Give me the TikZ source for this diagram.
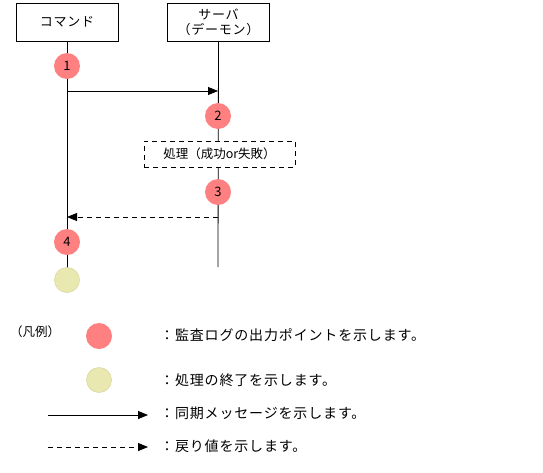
\documentclass[tikz,border=0pt]{standalone}
\usepackage{fontspec}
\setmainfont{Noto Sans CJK JP}
\newfontfamily\spaced[LetterSpace=6]{Noto Sans CJK JP}
\usetikzlibrary{arrows.meta}
\definecolor{audred}{HTML}{FF8080}
\definecolor{endyel}{HTML}{E8E8B0}
\definecolor{endyelb}{HTML}{D8D8A0}
\tikzset{
  lbox/.style={draw, line width=0.8pt, minimum width=102pt, minimum height=38pt, inner sep=0pt, align=center, font=\spaced\fontsize{13}{15}\selectfont},
  life/.style={line width=0.8pt},
  audit/.style={circle, fill=audred, minimum size=26pt, inner sep=0pt, font=\fontsize{13}{13}\selectfont},
  finish/.style={circle, fill=endyel, draw=endyelb, line width=0.6pt, minimum size=25pt, inner sep=0pt},
  sync/.style={line width=0.8pt, -{Triangle[length=10pt, width=8pt]}},
  ret/.style={line width=0.8pt, dash pattern=on 5pt off 4pt, -{Triangle[length=10pt, width=8pt]}},
  procbox/.style={draw, line width=0.8pt, dash pattern=on 5pt off 4pt, minimum width=151pt, minimum height=26pt, inner sep=0pt, font=\fontsize{12.5}{14}\selectfont},
  txt/.style={anchor=west, inner sep=0pt, font=\spaced\fontsize{14}{16}\selectfont}
}
\begin{document}
\begin{tikzpicture}[x=1pt, y=-1pt]
\useasboundingbox (0,0) rectangle (543,472);
% lifelines
\node[lbox] (cmd) at (67,22) {コマンド};
\node[lbox] (srv) at (218.5,22) {サーバ\\（デーモン）};
\coordinate (cmdend) at (67,268);
\coordinate (srvend) at (218,267);
\draw[life] (cmd.south) -- (cmdend);
\draw[life] (srv.south) -- (srvend);
% processing box
\node[procbox, fill=white] (proc) at (219.5,154) {処理（成功or失敗）};
% messages
\coordinate (m1a) at (67,91);
\coordinate (m1b) at (218,91);
\draw[sync] (m1a) -- (m1b);
\coordinate (m2a) at (218,217);
\coordinate (m2b) at (67,217);
\draw[ret] (m2a) -- (m2b);
% audit points
\node[audit] (a1) at (67,66) {1};
\node[audit] (a2) at (218,116) {2};
\node[audit] (a3) at (218,192) {3};
\node[audit] (a4) at (67,242) {4};
\node[finish] (f1) at (67,280) {};
% legend
\node[txt, font=\fontsize{12.5}{14}\selectfont] (legend) at (10,332) {（凡例）};
\node[audit] (la) at (99,336) {};
\node[txt] (lta) at (160,335) {：監査ログの出力ポイントを示します。};
\node[finish] (lf) at (99,380) {};
\node[txt] (ltf) at (160,380) {：処理の終了を示します。};
\coordinate (ls1) at (48,415);
\coordinate (ls2) at (148,415);
\draw[sync] (ls1) -- (ls2);
\node[txt] (lts) at (160,413) {：同期メッセージを示します。};
\coordinate (lr1) at (48,447);
\coordinate (lr2) at (148,447);
\draw[ret] (lr1) -- (lr2);
\node[txt] (ltr) at (160,446) {：戻り値を示します。};
\end{tikzpicture}
\end{document}
